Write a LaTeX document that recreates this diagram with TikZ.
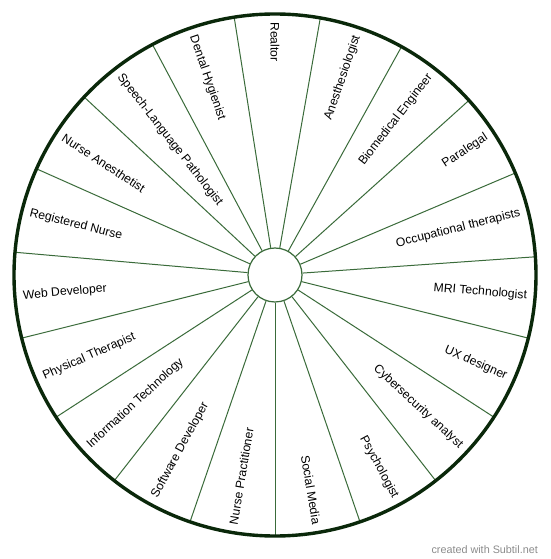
\documentclass[tikz,border=0pt]{standalone}
\usepackage{fontspec}
\setmainfont{Liberation Sans}
\definecolor{spokecol}{HTML}{3A6B3A}
\definecolor{rimcol}{HTML}{0A280A}
\begin{document}
\begin{tikzpicture}[x=1pt,y=1pt,
  spoke/.style={draw=spokecol, line width=1pt},
  lbl/.style={font=\fontsize{12.2}{14}\selectfont, inner sep=0pt, text=black},
  lblR/.style={lbl, anchor=east},
  lblL/.style={lbl, anchor=west}]
\useasboundingbox (-275,-284) rectangle (275,275);
\fill[white] (-275,-284) rectangle (275,275);
\node[circle, draw=spokecol, line width=1.2pt, minimum size=54pt, inner sep=0pt] (hub) at (0,0) {};
\node[circle, draw=none, minimum size=522pt, inner sep=0pt, outer sep=0pt] (rim) at (0,0) {};
\foreach \k in {0,...,18} {
  \pgfmathsetmacro{\a}{-90+\k*360/19}
  \draw[spoke] (hub.\a) -- (rim.\a);
}
\draw[rimcol, line width=3.4pt] (rim.center) circle (261pt);
\def\R{253}
\node[lblL, rotate=-90] (l0) at (90:\R) {Realtor};
\node[lblR, rotate=71.0526] (l1) at (71.0526:\R) {Anesthesiologist};
\node[lblR, rotate=52.1053] (l2) at (52.1053:\R) {Biomedical Engineer};
\node[lblR, rotate=33.1579] (l3) at (33.1579:\R) {Paralegal};
\node[lblR, rotate=14.2105] (l4) at (14.2105:\R) {Occupational therapists};
\node[lblR, rotate=-4.7368] (l5) at (-4.7368:\R) {MRI Technologist};
\node[lblR, rotate=-23.6842] (l6) at (-23.6842:\R) {UX designer};
\node[lblR, rotate=-42.6316] (l7) at (-42.6316:\R) {Cybersecurity analyst};
\node[lblR, rotate=-61.5789] (l8) at (-61.5789:\R) {Psychologist};
\node[lblR, rotate=-80.5263] (l9) at (-80.5263:\R) {Social Media};
\node[lblL, rotate=80.5263] (l10) at (-99.4737:\R) {Nurse Practitioner};
\node[lblL, rotate=61.5789] (l11) at (-118.4211:\R) {Software Developer};
\node[lblL, rotate=42.6316] (l12) at (-137.3684:\R) {Information Technology};
\node[lblL, rotate=23.6842] (l13) at (-156.3158:\R) {Physical Therapist};
\node[lblL, rotate=4.7368] (l14) at (-175.2632:\R) {Web Developer};
\node[lblL, rotate=-14.2105] (l15) at (165.7895:\R) {Registered Nurse};
\node[lblL, rotate=-33.1579] (l16) at (146.8421:\R) {Nurse Anesthetist};
\node[lblL, rotate=-52.1053] (l17) at (127.8947:\R) {Speech-Language Pathologist};
\node[lblL, rotate=-71.0526] (l18) at (108.9474:\R) {Dental Hygienist};
\node[anchor=east, inner sep=0pt, text=black!45, font=\fontsize{10.8}{12}\selectfont] (wm) at (263,-275) {created with Subtil.net};
\end{tikzpicture}
\end{document}
